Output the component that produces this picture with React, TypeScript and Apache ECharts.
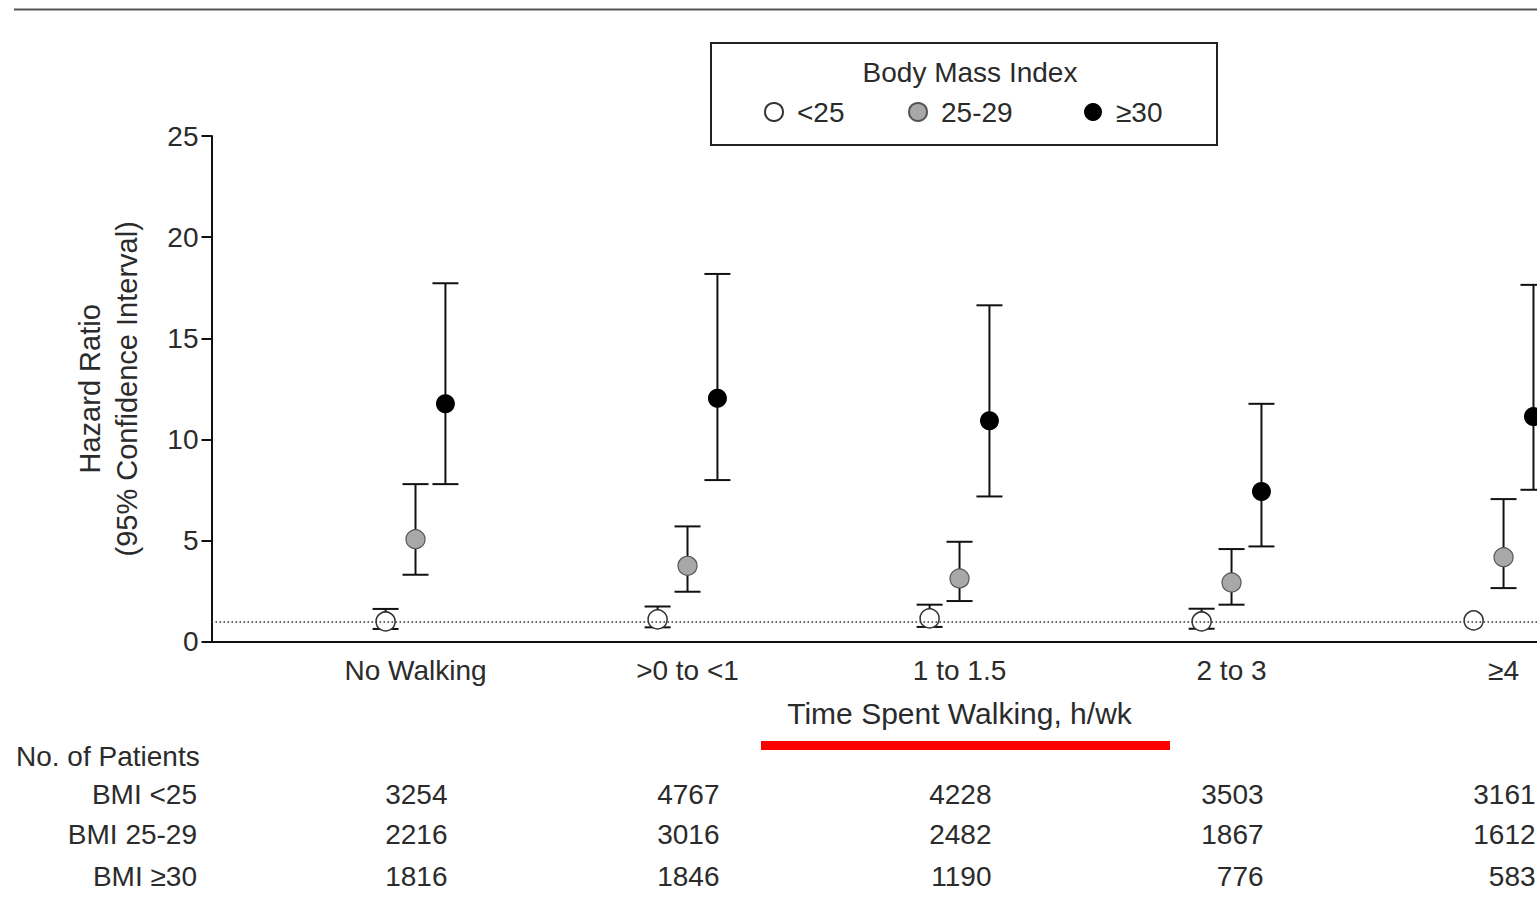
import React, { useEffect, useRef } from "react";
import * as echarts from "echarts";

// Walking categories along the x axis
const categories = ["No Walking", ">0 to <1", "1 to 1.5", "2 to 3", "≥4"];
const bmiGroups = ["<25", "25-29", "≥30"];

// Hazard ratios and 95% CI bounds per BMI group
const hrUnder25 = [1.0, 1.1, 1.15, 1.0, 1.05];
const loUnder25 = [0.63, 0.71, 0.73, 0.64, null];
const hiUnder25 = [1.62, 1.74, 1.83, 1.63, null];

const hr25to29 = [5.07, 3.75, 3.13, 2.93, 4.18];
const lo25to29 = [3.31, 2.47, 2.01, 1.83, 2.65];
const hi25to29 = [7.79, 5.7, 4.94, 4.58, 7.05];

const hrOver30 = [11.76, 12.04, 10.92, 7.43, 11.13];
const loOver30 = [7.79, 7.99, 7.18, 4.71, 7.51];
const hiOver30 = [17.72, 18.18, 16.63, 11.76, 17.64];

// Number of patients table
const tableTitle = "No. of Patients";
const rowLabels = ["BMI <25", "BMI 25-29", "BMI ≥30"];
const patientsUnder25 = [3254, 4767, 4228, 3503, 3161];
const patients25to29 = [2216, 3016, 2482, 1867, 1612];
const patientsOver30 = [1816, 1846, 1190, 776, 583];

const referenceHR = 1;

const FONT = "'Liberation Sans', Arial, Helvetica, sans-serif";
const TEXT = "#2b2b2b";

export default function App() {
  const ref = useRef<HTMLDivElement>(null);

  useEffect(() => {
    document.body.style.margin = "0";
    if (!ref.current) return;
    const chart = echarts.init(ref.current, undefined, { renderer: "svg" });

    const offsets = [-0.11, 0, 0.11];
    const hr = [hrUnder25, hr25to29, hrOver30];
    const lo = [loUnder25, lo25to29, loOver30];
    const hi = [hiUnder25, hi25to29, hiOver30];
    const styles = [
      { color: "#ffffff", borderColor: "#333333", borderWidth: 1.5, opacity: 1 },
      { color: "#a8a8a8", borderColor: "#555555", borderWidth: 1.2, opacity: 1 },
      { color: "#000000", borderColor: "#000000", borderWidth: 0, opacity: 1 },
    ];

    const barData: number[][] = [];
    hr.forEach((_, g) => {
      categories.forEach((_c, i) => {
        const l = lo[g][i];
        const h = hi[g][i];
        if (l != null && h != null) barData.push([i + 1 + offsets[g], l, h]);
      });
    });

    const CAP = 13;

    const scatterSeries = bmiGroups.map((name, g) => ({
      name,
      type: "scatter",
      z: 3,
      symbol: "circle",
      symbolSize: 19,
      itemStyle: styles[g],
      emphasis: { disabled: true },
      data: hr[g].map((v, i) => [i + 1 + offsets[g], v]),
    }));

    const legendLefts = [764, 908, 1084];

    chart.setOption({
      animation: false,
      grid: {
        left: 211.5,
        right: 0,
        top: 136,
        bottom: 281.3,
        containLabel: false,
        outerBoundsMode: "none",
      },
      legend: bmiGroups.map((name, g) => ({
        data: [name],
        left: legendLefts[g],
        top: 97,
        padding: 0,
        itemWidth: 36,
        itemHeight: 18,
        selectedMode: false,
        textStyle: { fontFamily: FONT, fontSize: 28, color: TEXT, lineHeight: 30 },
      })),
      xAxis: {
        type: "value",
        min: 0.25,
        max: 5.123,
        axisLine: { show: true, onZero: false, lineStyle: { color: "#111", width: 2 } },
        axisTick: { show: false },
        splitLine: { show: false },
        axisLabel: {
          customValues: [1, 2, 3, 4, 5],
          formatter: (v: number) => categories[Math.round(v) - 1] ?? "",
          margin: 15,
          fontFamily: FONT,
          fontSize: 28,
          color: TEXT,
        },
      },
      yAxis: {
        type: "value",
        min: 0,
        max: 25,
        interval: 5,
        name: "Hazard Ratio\n(95% Confidence Interval)",
        nameLocation: "middle",
        nameRotate: 90,
        nameGap: 66,
        nameTextStyle: { fontFamily: FONT, fontSize: 29, color: TEXT, lineHeight: 37 },
        axisLine: { show: true, lineStyle: { color: "#111", width: 2 } },
        axisTick: { show: true, inside: false, length: 10, lineStyle: { color: "#111", width: 2 } },
        splitLine: { show: false },
        axisLabel: { margin: 13, fontFamily: FONT, fontSize: 28, color: TEXT },
      },
      series: [
        {
          type: "custom",
          name: "ci",
          z: 2,
          data: barData,
          renderItem: (_params: any, api: any) => {
            const x = api.value(0);
            const top = api.coord([x, api.value(2)]);
            const bot = api.coord([x, api.value(1)]);
            const s = { stroke: "#111", lineWidth: 2 };
            return {
              type: "group",
              children: [
                { type: "line", shape: { x1: top[0], y1: top[1], x2: bot[0], y2: bot[1] }, style: s },
                { type: "line", shape: { x1: top[0] - CAP, y1: top[1], x2: top[0] + CAP, y2: top[1] }, style: s },
                { type: "line", shape: { x1: bot[0] - CAP, y1: bot[1], x2: bot[0] + CAP, y2: bot[1] }, style: s },
              ],
            };
          },
          markLine: {
            silent: true,
            symbol: "none",
            label: { show: false },
            lineStyle: { type: [1.6, 2.4], color: "#333", width: 1.6 },
            data: [{ yAxis: referenceHR }],
          },
        },
        ...scatterSeries,
      ],
    });

    // Patient-count table, placed under each category via the x axis scale
    const rows = [patientsUnder25, patients25to29, patientsOver30];
    const rowY = [794, 834, 876];
    const table: any[] = [];
    table.push({
      type: "text",
      left: 16,
      top: 757 - 15,
      style: { text: tableTitle, font: `28px ${FONT}`, fill: TEXT },
    });
    rowLabels.forEach((lab, r) => {
      table.push({
        type: "text",
        x: 197,
        y: rowY[r],
        style: { text: lab, font: `28px ${FONT}`, fill: TEXT, align: "right", verticalAlign: "middle" },
      });
    });
    rows.forEach((vals, r) => {
      vals.forEach((v, i) => {
        const px = chart.convertToPixel({ gridIndex: 0 }, [i + 1, 0]) as number[];
        table.push({
          type: "text",
          x: px[0] + 32,
          y: rowY[r],
          style: { text: String(v), font: `28px ${FONT}`, fill: TEXT, align: "right", verticalAlign: "middle" },
        });
      });
    });

    const titlePx = chart.convertToPixel({ gridIndex: 0 }, [3, 0]) as number[];

    chart.setOption({
      graphic: [
        // rule across the top of the figure
        { type: "line", shape: { x1: 14, y1: 9.5, x2: 1537, y2: 9.5 }, style: { stroke: "#555", lineWidth: 2 } },
        // legend frame and heading
        { type: "rect", shape: { x: 711, y: 43, width: 506, height: 102 }, style: { fill: "none", stroke: "#222", lineWidth: 2 } },
        {
          type: "text",
          x: 970,
          y: 72,
          style: { text: "Body Mass Index", font: `28px ${FONT}`, fill: TEXT, align: "center", verticalAlign: "middle" },
        },
        // x axis title with red underline
        {
          type: "text",
          x: titlePx[0],
          y: 713,
          style: { text: "Time Spent Walking, h/wk", font: `30px ${FONT}`, fill: TEXT, align: "center", verticalAlign: "middle" },
        },
        { type: "rect", shape: { x: 761, y: 741, width: 409, height: 9 }, style: { fill: "#ff0000" } },
        ...table,
      ],
    });

    return () => chart.dispose();
  }, []);

  return <div ref={ref} style={{ width: 1537, height: 923 }} />;
}
